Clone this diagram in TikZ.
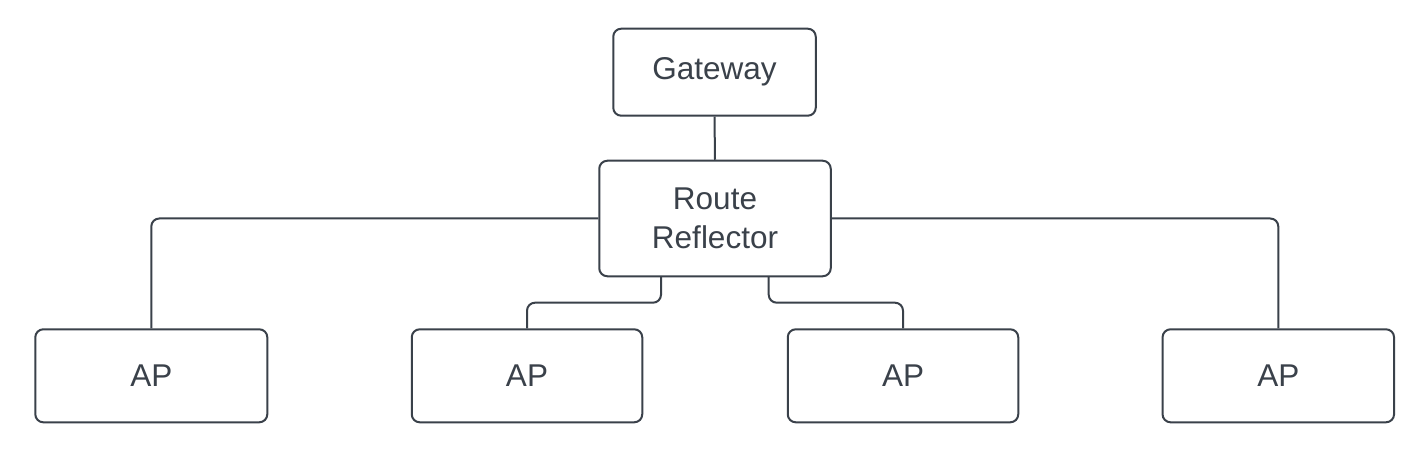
\documentclass[tikz,border=0pt]{standalone}
\usepackage{fontspec}
\setmainfont{Liberation Sans}
\definecolor{ink}{HTML}{3A414A}
\begin{document}
\begin{tikzpicture}[x=1pt,y=-1pt,
  box/.style={draw=ink, line width=2pt, rounded corners=8pt, fill=white,
    text=ink, align=center, inner sep=0pt,
    font=\fontsize{31.5}{39}\selectfont},
  link/.style={draw=ink, line width=2pt, rounded corners=8pt}]
\useasboundingbox[fill=white] (0,0) rectangle (1426,462);
\node[box, minimum width=202.5pt, minimum height=87pt] (gw) at (714.5,72.2) {Gateway};
\node[box, minimum width=231.5pt, minimum height=115.5pt] (rr) at (715,218.5) {Route\\Reflector};
\node[box, minimum width=232pt, minimum height=93pt] (ap1) at (151.3,375.8) {AP};
\node[box, minimum width=230.5pt, minimum height=93pt] (ap2) at (527,375.8) {AP};
\node[box, minimum width=230.5pt, minimum height=93pt] (ap3) at (903,375.8) {AP};
\node[box, minimum width=231.5pt, minimum height=93pt] (ap4) at (1278.3,375.8) {AP};
\draw[link] (gw.south) -- (rr.north);
\draw[link] (rr.west) -| (ap1.north);
\draw[link] (rr.east) -| (ap4.north);
\draw[link] (661,276.3) -- (661,302.7) -- (527,302.7) -- (ap2.north);
\draw[link] (768.7,276.3) -- (768.7,302.7) -- (903,302.7) -- (ap3.north);
\end{tikzpicture}
\end{document}
